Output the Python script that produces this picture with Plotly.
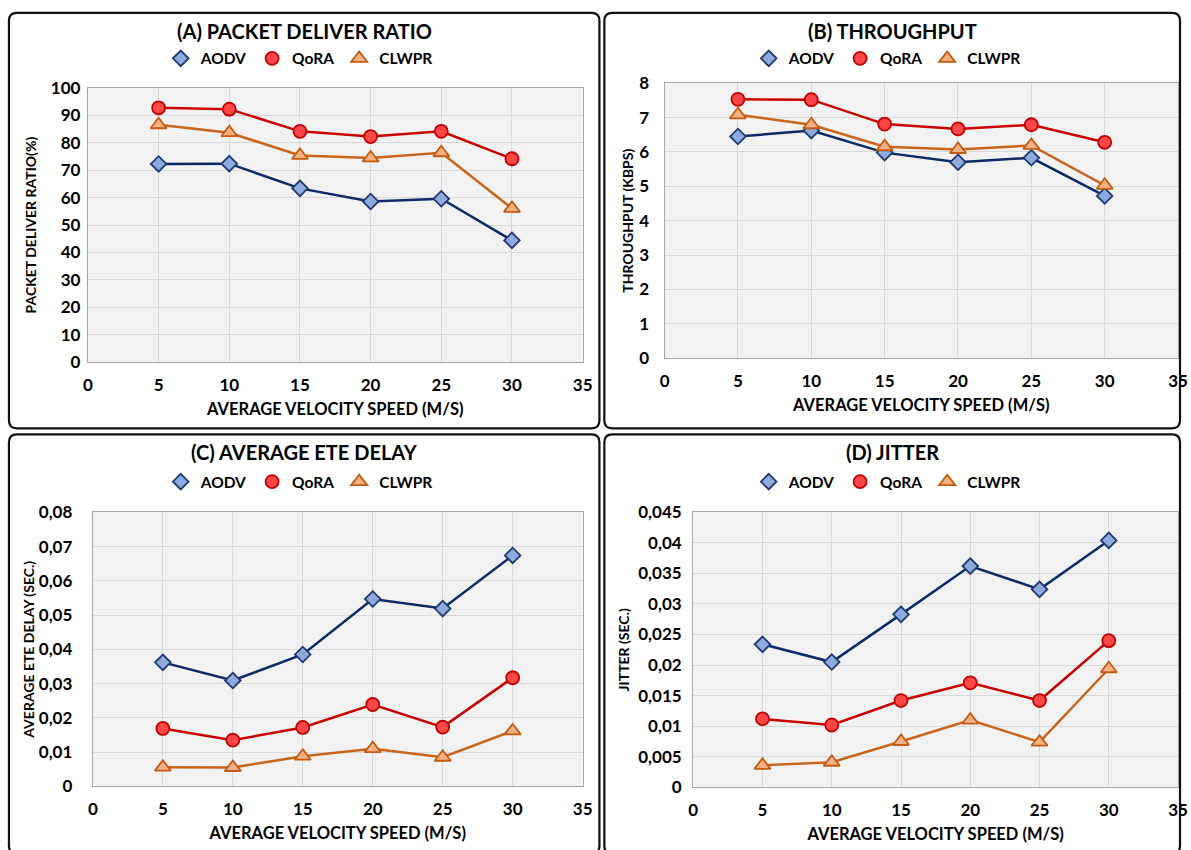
import plotly.graph_objects as go

W, H = 1191, 850

speed = [5, 10, 15, 20, 25, 30]
series_names = ["AODV", "QoRA", "CLWPR"]

pdr_aodv = [72.3, 72.4, 63.4, 58.6, 59.6, 44.4]
pdr_qora = [92.8, 92.3, 84.2, 82.3, 84.2, 74.2]
pdr_clwpr = [86.6, 83.7, 75.4, 74.5, 76.4, 56.1]

thr_aodv = [6.45, 6.62, 5.98, 5.70, 5.83, 4.72]
thr_qora = [7.53, 7.52, 6.81, 6.67, 6.79, 6.28]
thr_clwpr = [7.08, 6.79, 6.15, 6.07, 6.19, 5.03]

delay_aodv = [0.0362, 0.0309, 0.0385, 0.0547, 0.0519, 0.0674]
delay_qora = [0.0169, 0.0135, 0.0172, 0.0239, 0.0173, 0.0317]
delay_clwpr = [0.0056, 0.0055, 0.0088, 0.0110, 0.0085, 0.0162]

jit_aodv = [0.0234, 0.0205, 0.0283, 0.0362, 0.0324, 0.0404]
jit_qora = [0.0112, 0.0102, 0.0142, 0.0171, 0.0142, 0.0240]
jit_clwpr = [0.0036, 0.0041, 0.0075, 0.0110, 0.0074, 0.0194]

x_ticks = [0, 5, 10, 15, 20, 25, 30, 35]
delay_ticks = [0, 0.01, 0.02, 0.03, 0.04, 0.05, 0.06, 0.07, 0.08]
delay_ticktext = ["0", "0,01", "0,02", "0,03", "0,04", "0,05", "0,06", "0,07", "0,08"]
jit_ticks = [0, 0.005, 0.01, 0.015, 0.02, 0.025, 0.03, 0.035, 0.04, 0.045]
jit_ticktext = ["0", "0,005", "0,01", "0,015", "0,02", "0,025", "0,03", "0,035", "0,04", "0,045"]

panel_titles = ["(A) PACKET DELIVER RATIO", "(B) THROUGHPUT",
                "(C) AVERAGE ETE DELAY", "(D) JITTER"]
y_titles = ["PACKET DELIVER RATIO(%)", "THROUGHPUT (KBPS)",
            "AVERAGE ETE DELAY (SEC.)", "JITTER (SEC.)"]
x_title = "AVERAGE VELOCITY SPEED (M/S)"

FONT = "Lato"
styles = {
    "AODV": dict(symbol="diamond", fill="#8faadc", edge="#1f3a73", line="#0b2a66", size=12),
    "QoRA": dict(symbol="circle", fill="#ff4747", edge="#c00000", line="#c80000", size=13),
    "CLWPR": dict(symbol="triangle-up", fill="#f4b183", edge="#c55a11", line="#c8651b", size=14),
}

def px_x(p):
    return p / W

def px_y(p):
    return 1 - p / H

# plot area boxes in pixels (left, right, top, bottom)
plot_boxes = [(84, 585, 79, 360), (668, 1188, 74, 356),
              (89, 585, 514, 795), (697, 1188, 514, 796)]
frames = [(4, 602, 2, 428), (607, 1190, 2, 428),
          (4, 602, 434, 864), (607, 1190, 434, 864)]
title_ys = [20, 20, 452, 452]
legend_ys = [49, 49, 483, 483]
ylabel_standoff = [3, 11, 16, 7]
ytitle_standoff = [10, 2, 0, 5]

data = [
    (pdr_aodv, pdr_qora, pdr_clwpr),
    (thr_aodv, thr_qora, thr_clwpr),
    (delay_aodv, delay_qora, delay_clwpr),
    (jit_aodv, jit_qora, jit_clwpr),
]
y_ranges = [[0, 100], [0, 8], [0, 0.08], [0, 0.045]]

fig = go.Figure()
legend_names = ["legend", "legend2", "legend3", "legend4"]

for i in range(4):
    ax = "" if i == 0 else str(i + 1)
    for name, vals in zip(series_names, data[i]):
        st = styles[name]
        fig.add_trace(go.Scatter(
            x=speed, y=vals, mode="lines+markers", name=name,
            xaxis="x" + ax, yaxis="y" + ax, showlegend=False,
            line=dict(color=st["line"], width=2.5),
            marker=dict(symbol=st["symbol"], size=st["size"], color=st["fill"],
                        line=dict(color=st["edge"], width=1.8)),
        ))
    for name in series_names:
        st = styles[name]
        fig.add_trace(go.Scatter(
            x=[None], y=[None], mode="markers", name=name,
            xaxis="x" + ax, yaxis="y" + ax, legend=legend_names[i],
            marker=dict(symbol=st["symbol"], size=st["size"], color=st["fill"],
                        line=dict(color=st["edge"], width=1.8)),
        ))

layout = dict(
    width=W, height=H, margin=dict(l=0, r=0, t=0, b=0),
    paper_bgcolor="white", plot_bgcolor="#f2f2f2",
    font=dict(family=FONT, size=16, color="black", weight="bold"),
    separators=", ",
    shapes=[], annotations=[],
)

for i in range(4):
    ax = "" if i == 0 else str(i + 1)
    l, r, t, b = plot_boxes[i]
    common = dict(showline=True, linecolor="#a6a6a6", linewidth=1.3, mirror=True,
                  showgrid=True, gridcolor="#d9d9d9", gridwidth=1, zeroline=False,
                  ticks="", tickfont=dict(family=FONT, size=17, color="black", weight="bold"))
    layout["xaxis" + ax] = dict(
        domain=[px_x(l), px_x(r)], anchor="y" + ax, range=[0, 35],
        tickvals=x_ticks, ticklabelstandoff=7,
        title=dict(text=x_title, standoff=9,
                   font=dict(family=FONT, size=16.5, color="black", weight="bold")),
        **common)
    yax = dict(domain=[px_y(b), px_y(t)], anchor="x" + ax, range=y_ranges[i],
               ticklabelstandoff=ylabel_standoff[i],
               title=dict(text=y_titles[i], standoff=ytitle_standoff[i],
                          font=dict(family=FONT, size=14, color="black", weight="bold")),
               **common)
    if i == 0:
        yax["dtick"] = 10
    elif i == 1:
        yax["dtick"] = 1
    elif i == 2:
        yax["tickvals"] = delay_ticks
        yax["ticktext"] = delay_ticktext
    else:
        yax["tickvals"] = jit_ticks
        yax["ticktext"] = jit_ticktext
    layout["yaxis" + ax] = yax

    fx0, fx1, fy0, fy1 = frames[i]
    cx = (fx0 + fx1) / 2
    layout["annotations"].append(dict(
        text=panel_titles[i], x=px_x(cx), y=px_y(title_ys[i]), xref="paper", yref="paper",
        showarrow=False, xanchor="center", yanchor="middle",
        font=dict(family=FONT, size=20, color="black", weight="bold")))
    layout[legend_names[i]] = dict(
        orientation="h", x=px_x(cx - 5), y=px_y(legend_ys[i]), xanchor="center", yanchor="middle",
        bgcolor="rgba(0,0,0,0)", itemwidth=30, tracegroupgap=0,
        font=dict(family=FONT, size=15.5, color="black", weight="bold"))

    rx, ry = 8, 8
    path = (f"M {px_x(fx0 + rx)} {px_y(fy0)} L {px_x(fx1 - rx)} {px_y(fy0)} "
            f"Q {px_x(fx1)} {px_y(fy0)} {px_x(fx1)} {px_y(fy0 + ry)} "
            f"L {px_x(fx1)} {px_y(fy1 - ry)} "
            f"Q {px_x(fx1)} {px_y(fy1)} {px_x(fx1 - rx)} {px_y(fy1)} "
            f"L {px_x(fx0 + rx)} {px_y(fy1)} "
            f"Q {px_x(fx0)} {px_y(fy1)} {px_x(fx0)} {px_y(fy1 - ry)} "
            f"L {px_x(fx0)} {px_y(fy0 + ry)} "
            f"Q {px_x(fx0)} {px_y(fy0)} {px_x(fx0 + rx)} {px_y(fy0)} Z")
    layout["shapes"].append(dict(type="path", path=path, xref="paper", yref="paper",
                                 line=dict(color="#111111", width=2.2), layer="below"))

fig.update_layout(**layout)
fig.write_html("out.html", config={"displayModeBar": False},
               post_script="document.body.style.margin='0px';document.body.style.overflow='hidden';")
